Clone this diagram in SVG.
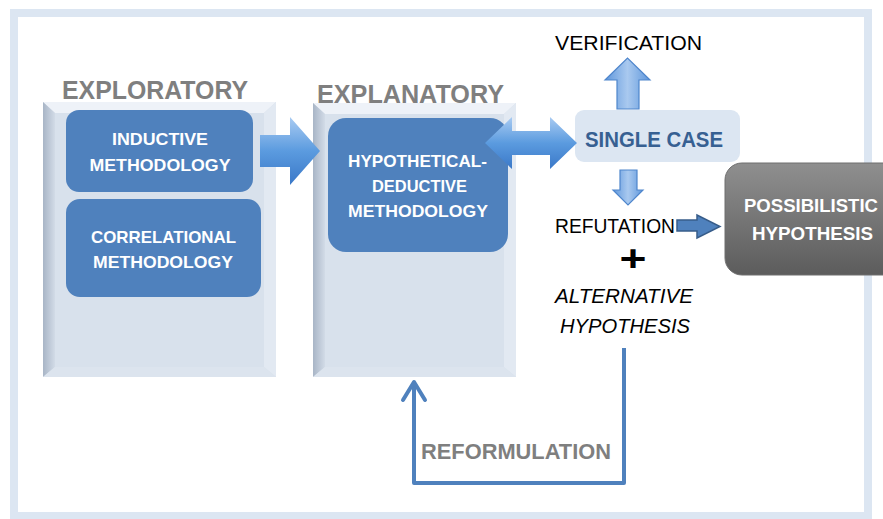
<svg xmlns="http://www.w3.org/2000/svg" width="883" height="519" viewBox="0 0 883 519">
<style>
.t{font-family:"Liberation Sans",Arial,sans-serif}
.ttl{font-size:26px;font-weight:bold;fill:#7f7f7f}
.wb{font-size:17px;font-weight:bold;fill:#ffffff}
.blk{font-size:20px;fill:#000000}
.box{fill:#4f81bd}
.bev-top{fill:#eef2f8}
.bev-right{fill:#e2e9f2}
.bev-bottom{fill:#dce4ee}
.panel{fill:#d8e1ec}
</style>
<defs>
<linearGradient id="leftBev" x1="0" y1="0" x2="1" y2="0">
<stop offset="0" stop-color="#a8b5c6"/><stop offset="1" stop-color="#d2dbe7"/>
</linearGradient>
<linearGradient id="blueArrow" x1="0" y1="0" x2="0" y2="1">
<stop offset="0" stop-color="#a9cbf2"/><stop offset="0.5" stop-color="#5b9bdf"/><stop offset="1" stop-color="#3a78c8"/>
</linearGradient>
<linearGradient id="lightArrow" x1="0" y1="0" x2="1" y2="0">
<stop offset="0" stop-color="#5f97dc"/><stop offset="0.5" stop-color="#a9c9ef"/><stop offset="1" stop-color="#5f97dc"/>
</linearGradient>
<linearGradient id="grayBox" x1="0" y1="0" x2="0" y2="1">
<stop offset="0" stop-color="#8f8f8f"/><stop offset="1" stop-color="#5c5c5c"/>
</linearGradient>
</defs>
<rect x="0" y="0" width="883" height="519" fill="#ffffff"/>
<rect id="frame" x="14" y="13" width="854" height="503" fill="#ffffff" stroke="#dce6f2" stroke-width="8"/>

<g id="exploratory">
<rect class="panel" x="43" y="102" width="233" height="275"/>
<polygon class="bev-top" points="43,102 276,102 264,113 55,113"/>
<polygon fill="url(#leftBev)" points="43,102 55,113 55,367 43,377"/>
<polygon class="bev-right" points="276,102 264,113 264,367 276,377"/>
<polygon class="bev-bottom" points="43,377 55,367 264,367 276,377"/>
<text class="t ttl" x="155" y="99" text-anchor="middle" textLength="186" lengthAdjust="spacingAndGlyphs">EXPLORATORY</text>
</g>

<g id="explanatory">
<rect class="panel" x="313" y="103" width="203" height="274"/>
<polygon class="bev-top" points="313,103 516,103 504,114 325,114"/>
<polygon fill="url(#leftBev)" points="313,103 325,114 325,367 313,377"/>
<polygon class="bev-right" points="516,103 504,114 504,367 516,377"/>
<polygon class="bev-bottom" points="313,377 325,367 504,367 516,377"/>
<text class="t ttl" x="410.5" y="103" text-anchor="middle" textLength="187" lengthAdjust="spacingAndGlyphs">EXPLANATORY</text>
</g>

<g id="inductive">
<rect class="box" x="66" y="110" width="187" height="82" rx="13"/>
<text class="t wb" x="160" y="145" text-anchor="middle" textLength="96" lengthAdjust="spacingAndGlyphs">INDUCTIVE</text>
<text class="t wb" x="160" y="171" text-anchor="middle" textLength="141" lengthAdjust="spacingAndGlyphs">METHODOLOGY</text>
</g>

<g id="correlational">
<rect class="box" x="66" y="199" width="195" height="98" rx="14"/>
<text class="t wb" x="163.5" y="243" text-anchor="middle" textLength="145" lengthAdjust="spacingAndGlyphs">CORRELATIONAL</text>
<text class="t wb" x="163" y="268" text-anchor="middle" textLength="140" lengthAdjust="spacingAndGlyphs">METHODOLOGY</text>
</g>

<g id="hypdeductive">
<rect class="box" x="328" y="118" width="180" height="134" rx="18"/>
<text class="t wb" x="417.5" y="167" text-anchor="middle" textLength="139" lengthAdjust="spacingAndGlyphs">HYPOTHETICAL-</text>
<text class="t wb" x="419.5" y="192" text-anchor="middle" textLength="95" lengthAdjust="spacingAndGlyphs">DEDUCTIVE</text>
<text class="t wb" x="418" y="217" text-anchor="middle" textLength="140" lengthAdjust="spacingAndGlyphs">METHODOLOGY</text>
</g>

<g id="singlecase">
<rect x="575" y="110" width="165" height="52" rx="9" fill="#dce6f2"/>
<text class="t" x="654" y="147" text-anchor="middle" font-size="22" font-weight="bold" fill="#376092" textLength="138" lengthAdjust="spacingAndGlyphs">SINGLE CASE</text>
</g>

<g id="verification">
<text class="t blk" x="628.5" y="50" text-anchor="middle" textLength="147" lengthAdjust="spacingAndGlyphs">VERIFICATION</text>
</g>

<g id="refutation">
<text class="t blk" x="615" y="233" text-anchor="middle" textLength="120" lengthAdjust="spacingAndGlyphs">REFUTATION</text>
<text class="t" x="633" y="271" text-anchor="middle" font-size="37" font-weight="bold" fill="#000000" textLength="27" lengthAdjust="spacingAndGlyphs">+</text>
<text class="t blk" x="624" y="303" text-anchor="middle" font-style="italic" textLength="138" lengthAdjust="spacingAndGlyphs">ALTERNATIVE</text>
<text class="t blk" x="625" y="333" text-anchor="middle" font-style="italic" textLength="130" lengthAdjust="spacingAndGlyphs">HYPOTHESIS</text>
</g>

<g id="possibilistic">
<rect x="725" y="163" width="180" height="112" rx="17" fill="url(#grayBox)" stroke="#6f6f6f" stroke-width="1"/>
<text class="t" x="811" y="212" text-anchor="middle" font-size="19" font-weight="bold" fill="#ffffff" textLength="134" lengthAdjust="spacingAndGlyphs">POSSIBILISTIC</text>
<text class="t" x="812.5" y="240" text-anchor="middle" font-size="19" font-weight="bold" fill="#ffffff" textLength="121" lengthAdjust="spacingAndGlyphs">HYPOTHESIS</text>
</g>

<g id="reformulation-label">
<text class="t" x="516" y="459" text-anchor="middle" font-size="22" font-weight="bold" fill="#7f7f7f" textLength="190" lengthAdjust="spacingAndGlyphs">REFORMULATION</text>
</g>

<g id="connectors">
<polygon points="260,135 290,135 290,117 320,151 290,185 290,167 260,167" fill="url(#blueArrow)"/>
<polygon points="485,143 512,117 512,131 550,131 550,117 577,143 550,169 550,155 512,155 512,169" fill="url(#blueArrow)"/>
<polygon points="605,80 627.5,58 650,80 639,80 639,109 617,109 617,80" fill="url(#lightArrow)" stroke="#4f86cc" stroke-width="1.2"/>
<polygon points="620,170 637,170 637,190 643,190 628,205 613,190 620,190" fill="url(#lightArrow)" stroke="#4f86cc" stroke-width="1.2"/>
<polygon points="677,220 697,220 697,215 720,226.5 697,238 697,231 677,231" fill="#4f81bd" stroke="#385d8a" stroke-width="1.5"/>
<path d="M624,348 V483 H414 V384" fill="none" stroke="#4f81bd" stroke-width="4" stroke-linejoin="round"/>
<path d="M403,400 L414,382 L425,400" fill="none" stroke="#4f81bd" stroke-width="4" stroke-linecap="round" stroke-linejoin="round"/>
</g>
</svg>
